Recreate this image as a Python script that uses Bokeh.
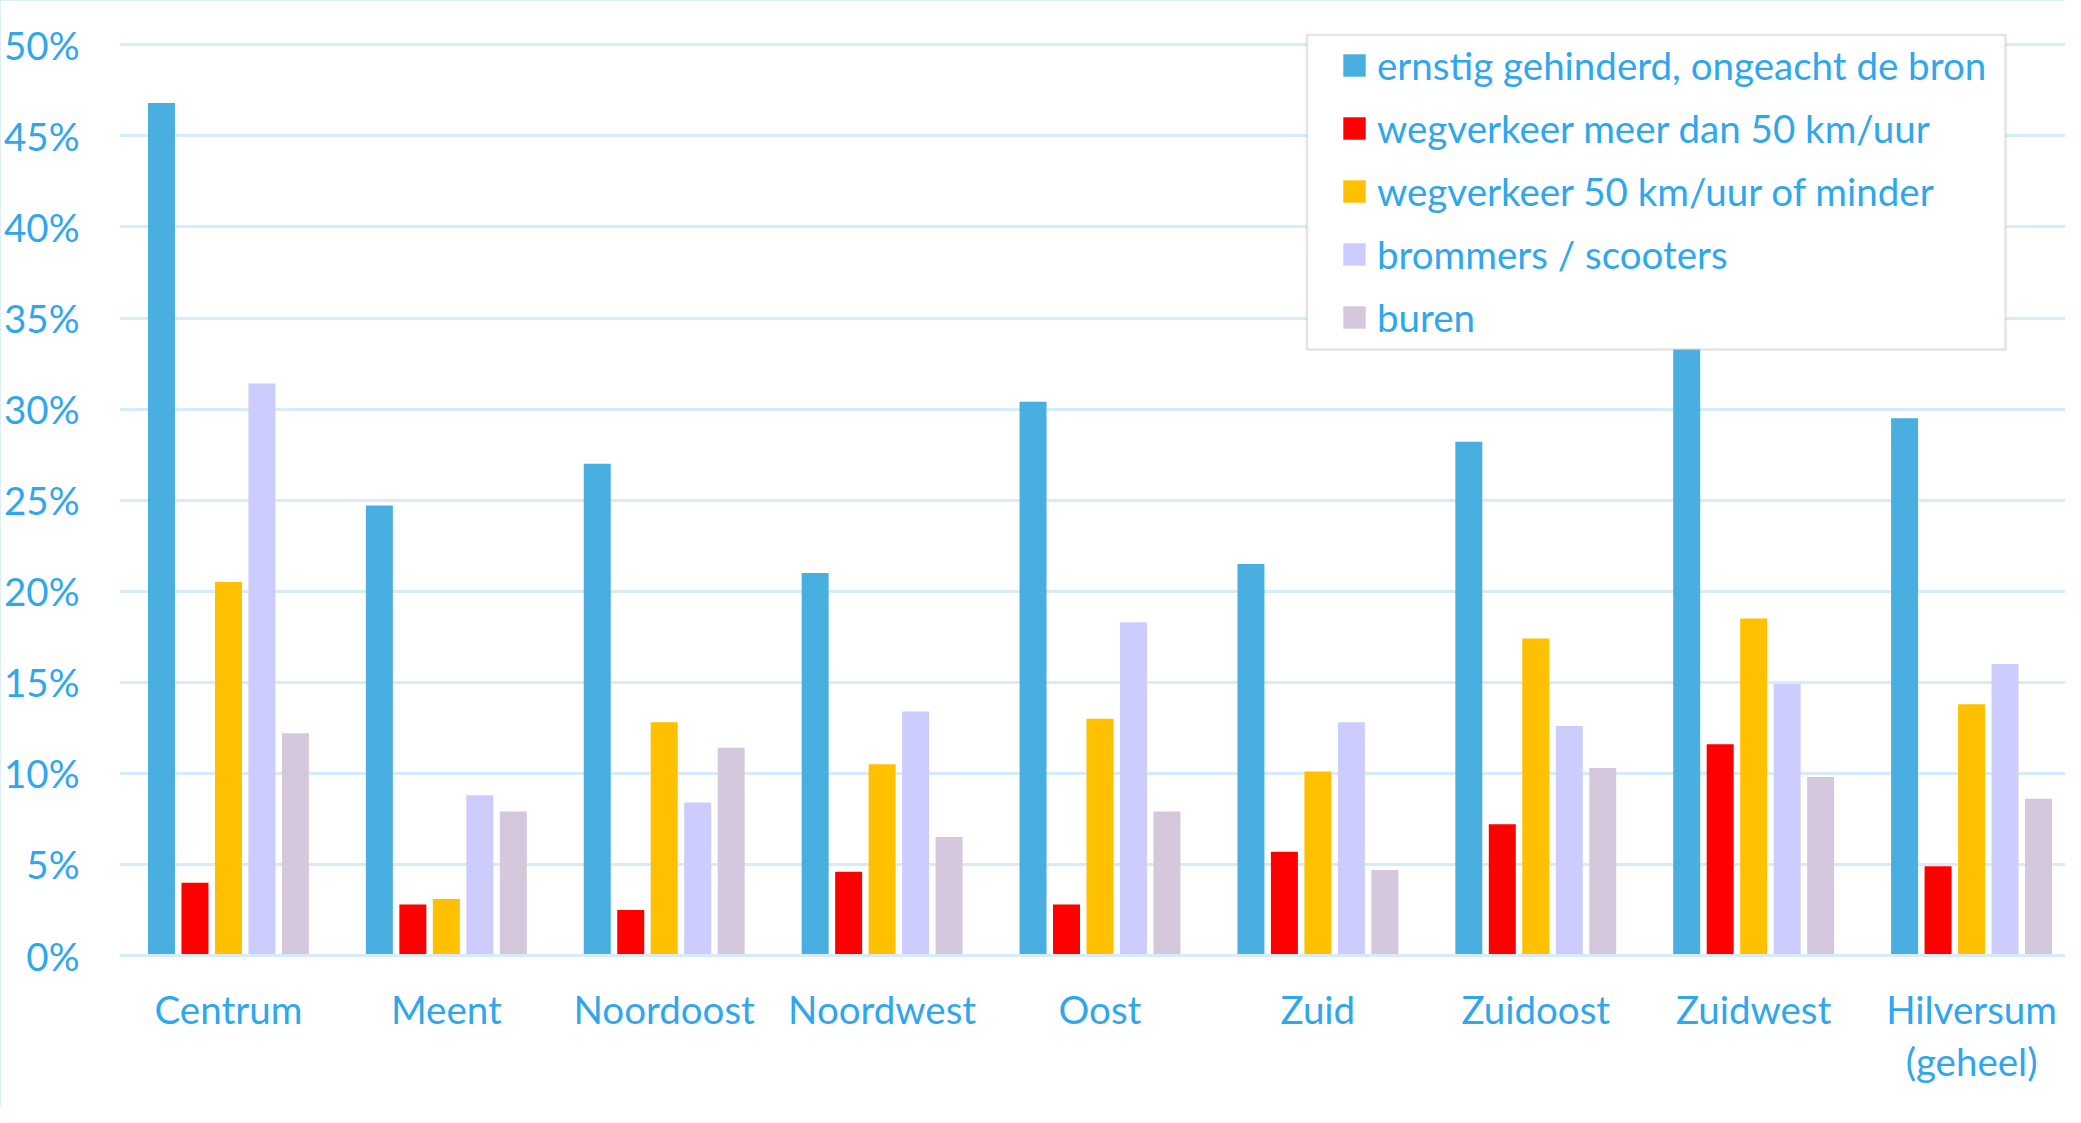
from bokeh.plotting import figure
from bokeh.models import (ColumnDataSource, Range1d, FixedTicker,
                          PrintfTickFormatter, Legend, LegendItem, BoxAnnotation)
from bokeh.embed import file_html
from bokeh.resources import INLINE

# ---------------- data ----------------
categories = ["Centrum", "Meent", "Noordoost", "Noordwest", "Oost", "Zuid",
              "Zuidoost", "Zuidwest", "Hilversum\n(geheel)"]
ernstig = [46.8, 24.7, 27.0, 21.0, 30.4, 21.5, 28.2, 36.5, 29.5]
weg_meer_50 = [4.0, 2.8, 2.5, 4.6, 2.8, 5.7, 7.2, 11.6, 4.9]
weg_50_minder = [20.5, 3.1, 12.8, 10.5, 13.0, 10.1, 17.4, 18.5, 13.8]
brommers = [31.4, 8.8, 8.4, 13.4, 18.3, 12.8, 12.6, 14.9, 16.0]
buren = [12.2, 7.9, 11.4, 6.5, 7.9, 4.7, 10.3, 9.8, 8.6]
series_labels = ["ernstig gehinderd, ongeacht de bron",
                 "wegverkeer meer dan 50 km/uur",
                 "wegverkeer 50 km/uur of minder",
                 "brommers / scooters",
                 "buren"]
series_values = [ernstig, weg_meer_50, weg_50_minder, brommers, buren]
y_ticks = [0, 5, 10, 15, 20, 25, 30, 35, 40, 45, 50]

# ---------------- style ----------------
colors = ["#49afe0", "#ff0000", "#ffc000", "#ccccff", "#d6c8dc"]
text_color = "#2fa7ee"
grid_color = "#d6ecfa"
border_color = "#d2eafb"
FONT = "Lato"
FS = "38.5px"

W, H = 2065, 1107
B_LEFT, B_RIGHT, B_TOP, B_BOTTOM = 118, 0, 33, 152
frame_w = W - B_LEFT - B_RIGHT
frame_h = H - B_TOP - B_BOTTOM
CAT_W = 218.0                      # pixel width of one category slot
px_per_pct = 910.7 / 50.0
y_end = frame_h / px_per_pct
x_end = frame_w / CAT_W

n = len(categories)
centers = [i + 0.5 for i in range(n)]

p = figure(x_range=Range1d(0, x_end), y_range=Range1d(0, y_end),
           width=W, height=H, output_backend="svg", toolbar_location=None,
           min_border_left=B_LEFT, min_border_right=B_RIGHT,
           min_border_top=B_TOP, min_border_bottom=B_BOTTOM)
p.outline_line_color = None
p.background_fill_color = "white"
p.border_fill_color = "white"
# outer light-blue border of the whole chart (drawn inside the element)
p.styles = {"outline": "3px solid " + border_color, "outline-offset": "-3px"}

pitch = 33.5 / CAT_W
bar_w = 27.0 / CAT_W
renderers = []
for i, vals in enumerate(series_values):
    src = ColumnDataSource(dict(x=[c + (i - 2) * pitch for c in centers], top=vals))
    r = p.vbar(x="x", top="top", width=bar_w, source=src,
               fill_color=colors[i], line_color=None)
    renderers.append(r)

# axes
p.yaxis.ticker = FixedTicker(ticks=y_ticks)
p.yaxis.formatter = PrintfTickFormatter(format="%d%%")
p.yaxis.axis_line_color = None
p.yaxis.major_tick_line_color = None
p.yaxis.minor_tick_line_color = None
p.yaxis.major_tick_out = 0
p.yaxis.major_tick_in = 0
p.yaxis.major_label_standoff = 40
p.yaxis.major_label_text_font = FONT
p.yaxis.major_label_text_font_size = FS
p.yaxis.major_label_text_color = text_color

p.xaxis.ticker = FixedTicker(ticks=centers)
p.xaxis.major_label_overrides = {c: lab for c, lab in zip(centers, categories)}
p.xaxis.axis_line_color = grid_color
p.xaxis.axis_line_width = 3
p.xaxis.major_tick_line_color = None
p.xaxis.minor_tick_line_color = None
p.xaxis.major_tick_out = 0
p.xaxis.major_tick_in = 0
p.xaxis.major_label_standoff = 30
p.xaxis.major_label_text_font = FONT
p.xaxis.major_label_text_font_size = FS
p.xaxis.major_label_text_color = text_color
p.xaxis.major_label_text_line_height = 1.15

p.xgrid.grid_line_color = None
p.ygrid.grid_line_color = grid_color
p.ygrid.grid_line_width = 3

# legend frame (box behind legend items)
box = BoxAnnotation(left=(1306 - B_LEFT) / CAT_W, right=(2005 - B_LEFT) / CAT_W,
                    top=y_end - 1.2 / px_per_pct,
                    bottom=(H - B_BOTTOM - 349) / px_per_pct,
                    fill_color="white", fill_alpha=1.0,
                    line_color="#a6a6a6", line_width=2.5)
p.add_layout(box)

items = [LegendItem(label=lab, renderers=[r]) for lab, r in zip(series_labels, renderers)]
legend = Legend(items=items, location=(1221, 615), padding=0, margin=0,
                spacing=17, glyph_width=28, glyph_height=28, label_height=46,
                label_standoff=9, label_text_font=FONT, label_text_font_size=FS,
                label_text_color=text_color, border_line_color=None,
                background_fill_alpha=0.0)
p.add_layout(legend)

open("out.html", "w").write(file_html(p, INLINE))
